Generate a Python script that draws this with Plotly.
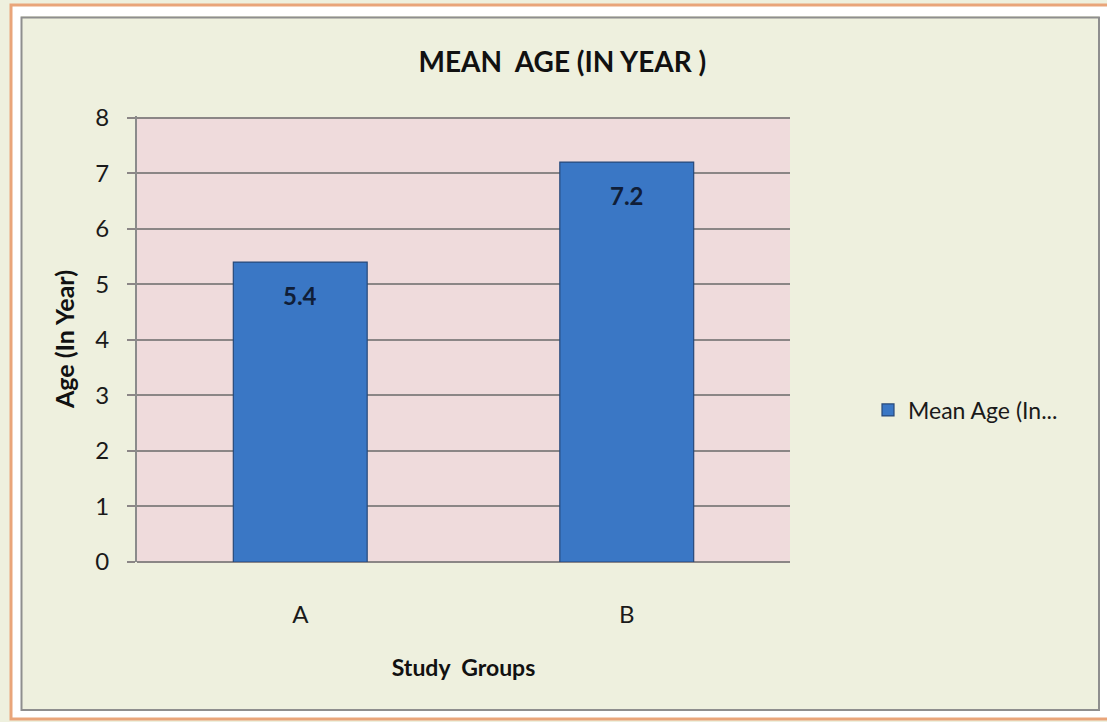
import plotly.graph_objects as go

categories = ["A", "B"]
mean_age = [5.4, 7.2]
value_labels = ["5.4", "7.2"]
y_ticks = [0, 1, 2, 3, 4, 5, 6, 7, 8]

FONT = "Lato, 'Open Sans', sans-serif"

fig = go.Figure()
fig.add_trace(go.Bar(
    x=categories, y=mean_age, name="Mean Age (In...",
    width=0.41,
    marker=dict(color="#3A77C5", line=dict(color="#27497A", width=1.2)),
))

for c, v, t in zip(categories, mean_age, value_labels):
    fig.add_annotation(x=c, y=v, text="<b>%s</b>" % t, showarrow=False,
                       yshift=-33, font=dict(family=FONT, size=24, color="#101E38"))

YMAX = 8.03
L, R, T, B = 137, 317, 116, 160
W, H = 1107 - L - R, 722 - T - B

def px(x):
    return (x - L) / W

def py(y):
    return (722 - B - y) / H

shapes = [
    dict(type="rect", xref="paper", yref="paper", layer="below",
         x0=px(16), x1=px(1104), y0=py(714.5), y1=py(11),
         line=dict(color="#FFFFFF", width=10), fillcolor="rgba(0,0,0,0)"),
    dict(type="rect", xref="paper", yref="paper", layer="below",
         x0=px(11), x1=px(1115), y0=py(719), y1=py(5),
         line=dict(color="#E9A57A", width=3), fillcolor="rgba(0,0,0,0)"),
    dict(type="rect", xref="paper", yref="paper", layer="below",
         x0=px(21.5), x1=px(1099), y0=py(710), y1=py(17.5),
         line=dict(color="#8E8E8E", width=2), fillcolor="rgba(0,0,0,0)"),
    dict(type="rect", xref="x domain", yref="y", layer="below",
         x0=0, x1=1, y0=0, y1=8, line=dict(width=0), fillcolor="#EFDBDC"),
]

fig.update_layout(
    width=1107, height=722,
    margin=dict(l=L, r=R, t=T, b=B),
    paper_bgcolor="#EEF0DE",
    plot_bgcolor="rgba(0,0,0,0)",
    font=dict(family=FONT, size=21, color="#1A1A1A"),
    shapes=shapes,
    title=dict(text="<b>MEAN\u00a0\u00a0AGE (IN YEAR )</b>", xref="container", x=0.508,
               xanchor="center", y=1 - 62 / 722, yanchor="middle",
               font=dict(family=FONT, size=28, color="#111111")),
    showlegend=True,
    legend=dict(x=px(868), xanchor="left", y=py(410), yanchor="middle",
                bgcolor="rgba(0,0,0,0)", font=dict(family=FONT, size=23, color="#1A1A1A")),
    xaxis=dict(
        showgrid=False, showline=False, ticks="", ticklabelstandoff=36,
        tickfont=dict(family=FONT, size=24, color="#1A1A1A"),
        title=dict(text="<b>Study\u00a0\u00a0Groups</b>", standoff=32,
                   font=dict(family=FONT, size=23, color="#111111")),
    ),
    yaxis=dict(
        range=[0, YMAX], tickvals=y_ticks, showgrid=True, gridcolor="#8B8686", gridwidth=2,
        showline=True, linecolor="#8B8B8B", linewidth=2,
        ticks="outside", ticklen=8, tickcolor="#8B8686", tickwidth=2,
        zeroline=True, zerolinecolor="#8B8686", zerolinewidth=2, ticklabelstandoff=13,
        tickfont=dict(family=FONT, size=24, color="#1A1A1A"),
        title=dict(text="<b>Age (In Year)</b>", standoff=14,
                   font=dict(family=FONT, size=25, color="#111111")),
    ),
)

fig.write_html("out.html")
